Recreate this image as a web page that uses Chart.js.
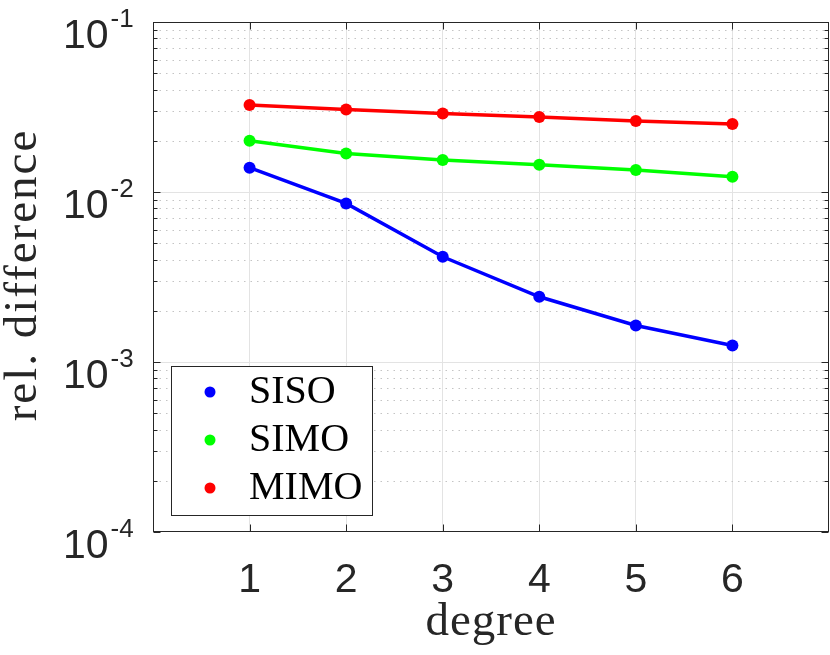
<!DOCTYPE html>
<html>
<head>
<meta charset="utf-8">
<script src="https://cdn.jsdelivr.net/npm/chart.js@4/dist/chart.umd.min.js"></script>
<style>
  html, body { margin: 0; padding: 0; background: #fff; }
  #wrap { width: 830px; height: 655px; }
</style>
</head>
<body>
<div id="wrap"><canvas id="chart" width="830" height="655"></canvas></div>
<script>
// data
const degrees = [1, 2, 3, 4, 5, 6];
const sisoValues = [0.0139, 0.00857, 0.00416, 0.00242, 0.00164, 0.00125];
const simoValues = [0.0200, 0.01687, 0.01542, 0.01448, 0.01347, 0.01230];
const mimoValues = [0.0325, 0.0306, 0.0290, 0.0276, 0.0262, 0.0251];
const seriesNames = ['SISO', 'SIMO', 'MIMO'];
const seriesColors = ['#0000ff', '#00ff00', '#ff0000'];
const xTicks = [1, 2, 3, 4, 5, 6];
const yDecades = [-4, -3, -2, -1];

const axisColor = '#262626';
const sans = '"Liberation Sans", Arial, sans-serif';
const serif = '"Liberation Serif", "Times New Roman", serif';

function toPoints(vals) {
  return degrees.map((d, i) => ({ x: d, y: vals[i] }));
}

const datasets = [sisoValues, simoValues, mimoValues].map((vals, i) => ({
  label: seriesNames[i],
  data: toPoints(vals),
  borderColor: seriesColors[i],
  backgroundColor: seriesColors[i],
  borderWidth: 3.5,
  pointRadius: 6,
  pointBorderWidth: 0,
  pointBackgroundColor: seriesColors[i],
  tension: 0
}));

// minor dotted grid, drawn under the lines
const minorGrid = {
  id: 'minorGrid',
  beforeDatasetsDraw(chart) {
    const { ctx, chartArea: a, scales: { y } } = chart;
    ctx.save();
    ctx.strokeStyle = '#c4c4c4';
    ctx.lineWidth = 1;
    ctx.setLineDash([1.5, 5]);
    yDecades.slice(0, -1).forEach(d => {
      for (let m = 2; m <= 9; m++) {
        const py = Math.round(y.getPixelForValue(m * Math.pow(10, d))) + 0.5;
        ctx.beginPath();
        ctx.moveTo(a.left, py);
        ctx.lineTo(a.right, py);
        ctx.stroke();
      }
    });
    ctx.restore();
  }
};

// box, ticks, labels, titles and legend in the matlab look
const matlabAxes = {
  id: 'matlabAxes',
  afterDraw(chart) {
    const { ctx, chartArea: a, scales: { x, y } } = chart;
    const L = Math.round(a.left) + 0.5, R = Math.round(a.right) - 0.5;
    const T = Math.round(a.top) + 0.5, B = Math.round(a.bottom) - 0.5;
    ctx.save();
    ctx.strokeStyle = axisColor;
    ctx.lineWidth = 1;
    ctx.strokeRect(L, T, R - L, B - T);

    // tick marks
    ctx.beginPath();
    xTicks.forEach(v => {
      const px = Math.round(x.getPixelForValue(v)) + 0.5;
      ctx.moveTo(px, B); ctx.lineTo(px, B - 7);
      ctx.moveTo(px, T); ctx.lineTo(px, T + 7);
    });
    yDecades.forEach((d, k) => {
      const py = Math.round(y.getPixelForValue(Math.pow(10, d))) + 0.5;
      ctx.moveTo(L, py); ctx.lineTo(L + 7, py);
      ctx.moveTo(R, py); ctx.lineTo(R - 7, py);
      if (k < yDecades.length - 1) {
        for (let m = 2; m <= 9; m++) {
          const pm = Math.round(y.getPixelForValue(m * Math.pow(10, d))) + 0.5;
          ctx.moveTo(L, pm); ctx.lineTo(L + 4, pm);
          ctx.moveTo(R, pm); ctx.lineTo(R - 4, pm);
        }
      }
    });
    ctx.stroke();

    // tick labels
    ctx.fillStyle = axisColor;
    ctx.font = '41px ' + sans;
    ctx.textAlign = 'center';
    ctx.textBaseline = 'alphabetic';
    xTicks.forEach(v => ctx.fillText(String(v), x.getPixelForValue(v), 592));

    ctx.textAlign = 'left';
    yDecades.forEach(d => {
      const py = y.getPixelForValue(Math.pow(10, d));
      ctx.font = '41px ' + sans;
      ctx.fillText('10', 63, py + 26);
      const w = ctx.measureText('10').width;
      ctx.font = '26px ' + sans;
      ctx.fillText(String(d), 63 + w + 2, py + 5);
    });

    // axis titles
    ctx.font = '47px ' + serif;
    ctx.textAlign = 'center';
    ctx.save();
    ctx.letterSpacing = '1px';
    ctx.fillText('degree', 491, 635);
    ctx.restore();
    ctx.save();
    ctx.translate(36, 275);
    ctx.rotate(-Math.PI / 2);
    ctx.letterSpacing = '2px';
    ctx.fillText('rel. difference', 0, 0);
    ctx.restore();

    // legend
    ctx.fillStyle = '#fff';
    ctx.fillRect(171.5, 366.5, 201, 149);
    ctx.strokeStyle = axisColor;
    ctx.strokeRect(171.5, 366.5, 201, 149);
    ctx.font = '40px ' + serif;
    ctx.textAlign = 'left';
    chart.data.datasets.forEach((ds, i) => {
      const cy = 392 + i * 48;
      ctx.fillStyle = ds.borderColor;
      ctx.beginPath();
      ctx.arc(210, cy, 5.5, 0, Math.PI * 2);
      ctx.fill();
      ctx.fillStyle = '#000';
      ctx.fillText(ds.label, 249, cy + 11);
    });
    ctx.restore();
  }
};

new Chart(document.getElementById('chart').getContext('2d'), {
  type: 'line',
  data: { datasets: datasets },
  options: {
    responsive: false,
    animation: false,
    devicePixelRatio: 1,
    layout: { autoPadding: false, padding: { top: 22, right: 1, left: 0, bottom: 0 } },
    plugins: { legend: { display: false }, tooltip: { enabled: false } },
    scales: {
      x: {
        type: 'linear',
        min: 0,
        max: 7,
        ticks: { display: false, stepSize: 1 },
        grid: {
          drawTicks: false,
          color: c => (c.tick && (c.tick.value === 0 || c.tick.value === 7)) ? 'rgba(0,0,0,0)' : '#e3e3e3'
        },
        border: { display: false },
        afterFit: s => { s.height = 123; }
      },
      y: {
        type: 'logarithmic',
        min: 1e-4,
        max: 1e-1,
        ticks: { display: false },
        afterBuildTicks: s => { s.ticks = yDecades.map(d => ({ value: Math.pow(10, d), major: true })); },
        grid: {
          drawTicks: false,
          color: c => (c.tick && (c.tick.value === 1e-4 || c.tick.value === 1e-1)) ? 'rgba(0,0,0,0)' : '#e3e3e3'
        },
        border: { display: false },
        afterFit: s => { s.width = 153; }
      }
    }
  },
  plugins: [minorGrid, matlabAxes]
});
</script>
</body>
</html>
